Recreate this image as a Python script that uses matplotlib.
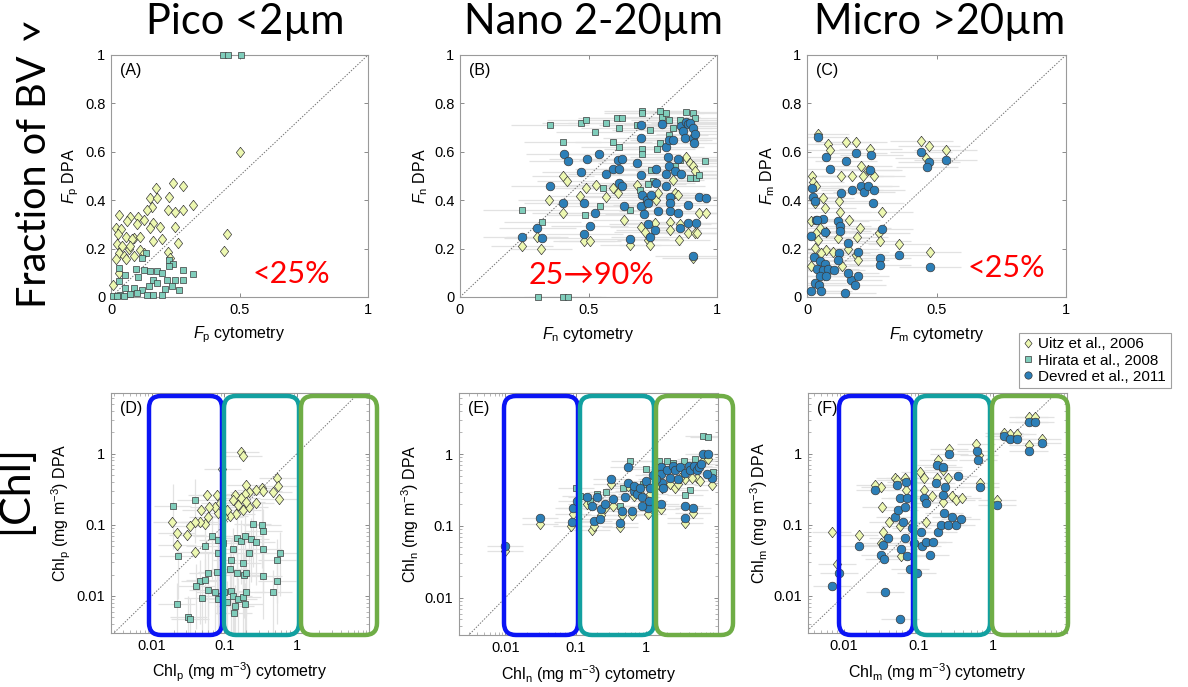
import numpy as np
import matplotlib.pyplot as plt
from matplotlib.patches import FancyBboxPatch
from matplotlib.lines import Line2D

plt.rcParams['font.family'] = ['Liberation Sans', 'DejaVu Sans']
plt.rcParams['mathtext.fontset'] = 'custom'
plt.rcParams['mathtext.rm'] = 'Liberation Sans'
plt.rcParams['mathtext.it'] = 'Liberation Sans:italic'

# ---------------- data ----------------
# Panel A : pico fraction (cytometry, DPA)
a_uitz_x = [0.50, 0.45, 0.44, 0.28, 0.24, 0.175, 0.32, 0.226, 0.15, 0.18, 0.22, 0.25, 0.28, 0.16,
            0.14, 0.107, 0.075, 0.03, 0.062, 0.127, 0.165, 0.19, 0.25, 0.153, 0.10, 0.02, 0.04,
            0.026, 0.06, 0.088, 0.114, 0.08, 0.26, 0.165, 0.20, 0.023, 0.043, 0.07, 0.114, 0.03,
            0.05, 0.088, 0.22, 0.127, 0.02, 0.06, 0.03, 0.008, 0.075, 0.23]
a_uitz_y = [0.60, 0.26, 0.19, 0.46, 0.47, 0.45, 0.38, 0.415, 0.41, 0.41, 0.36, 0.35, 0.36, 0.37,
            0.36, 0.33, 0.33, 0.34, 0.315, 0.317, 0.305, 0.29, 0.29, 0.285, 0.30, 0.285, 0.28,
            0.26, 0.25, 0.245, 0.25, 0.24, 0.225, 0.23, 0.24, 0.22, 0.21, 0.20, 0.195, 0.18,
            0.17, 0.17, 0.185, 0.18, 0.155, 0.155, 0.10, 0.05, 0.21, 0.16]
a_hir_x = [0.437, 0.457, 0.505, 0.32, 0.28, 0.28, 0.224, 0.24, 0.226, 0.137, 0.12, 0.127, 0.153,
           0.18, 0.20, 0.097, 0.03, 0.056, 0.107, 0.165, 0.217, 0.25, 0.03, 0.18, 0.237, 0.263,
           0.146, 0.088, 0.12, 0.056, 0.198, 0.165, 0.14, 0.10, 0.072, 0.036, 0.008, 0.023, 0.05,
           0.21]
a_hir_y = [1.0, 1.0, 1.0, 0.096, 0.113, 0.07, 0.154, 0.137, 0.13, 0.18, 0.16, 0.11, 0.108, 0.106,
           0.099, 0.117, 0.12, 0.092, 0.083, 0.072, 0.072, 0.069, 0.065, 0.058, 0.044, 0.028,
           0.044, 0.037, 0.03, 0.037, 0.01, 0.01, 0.01, 0.017, 0.014, 0.01, 0.003, 0.006, 0.003,
           0.033]

# Panel B : nano fraction
b_uitz_x = [0.24, 0.30, 0.315, 0.346, 0.40, 0.40, 0.418, 0.466, 0.483, 0.505, 0.49, 0.53, 0.57,
            0.596, 0.615, 0.637, 0.663, 0.687, 0.705, 0.72, 0.73, 0.738, 0.758, 0.764, 0.77,
            0.816, 0.816, 0.835, 0.85, 0.852, 0.855, 0.88, 0.894, 0.907, 0.913, 0.888, 0.913,
            0.922, 0.93, 0.956, 0.907, 0.715, 0.83]
b_uitz_y = [0.21, 0.25, 0.20, 0.40, 0.347, 0.50, 0.48, 0.418, 0.23, 0.23, 0.45, 0.463, 0.415,
            0.45, 0.43, 0.32, 0.216, 0.463, 0.29, 0.27, 0.236, 0.215, 0.305, 0.40, 0.43, 0.31,
            0.278, 0.43, 0.42, 0.234, 0.30, 0.58, 0.553, 0.54, 0.52, 0.264, 0.264, 0.264, 0.347,
            0.347, 0.16, 0.38, 0.484]
b_hir_x = [0.24, 0.32, 0.35, 0.40, 0.47, 0.49, 0.525, 0.57, 0.596, 0.61, 0.63, 0.62, 0.62, 0.66,
           0.69, 0.71, 0.71, 0.71, 0.71, 0.74, 0.745, 0.75, 0.73, 0.78, 0.785, 0.80, 0.815, 0.83,
           0.765, 0.78, 0.855, 0.88, 0.907, 0.913, 0.92, 0.895, 0.93, 0.955, 0.855, 0.835, 0.557,
           0.486, 0.544, 0.305, 0.40, 0.42, 0.70, 0.815]
b_hir_y = [0.36, 0.31, 0.71, 0.64, 0.72, 0.73, 0.68, 0.72, 0.64, 0.74, 0.74, 0.70, 0.62, 0.36,
           0.71, 0.77, 0.76, 0.61, 0.59, 0.69, 0.525, 0.48, 0.465, 0.77, 0.745, 0.76, 0.73, 0.70,
           0.61, 0.635, 0.73, 0.765, 0.76, 0.74, 0.49, 0.49, 0.505, 0.56, 0.565, 0.54, 0.45,
           0.34, 0.374, 0.0, 0.0, 0.0, 0.443, 0.67]
b_dev_x = [0.24, 0.30, 0.32, 0.35, 0.40, 0.405, 0.42, 0.47, 0.483, 0.496, 0.483, 0.505, 0.525,
           0.54, 0.57, 0.596, 0.613, 0.62, 0.632, 0.62, 0.632, 0.64, 0.663, 0.687, 0.705, 0.705,
           0.705, 0.71, 0.705, 0.715, 0.728, 0.73, 0.73, 0.738, 0.758, 0.745, 0.764, 0.764, 0.77,
           0.787, 0.80, 0.81, 0.813, 0.80, 0.803, 0.816, 0.816, 0.816, 0.813, 0.83, 0.835, 0.85,
           0.85, 0.855, 0.86, 0.86, 0.868, 0.875, 0.878, 0.888, 0.894, 0.888, 0.888, 0.907,
           0.907, 0.913, 0.91, 0.917, 0.907, 0.93, 0.956]
b_dev_y = [0.25, 0.285, 0.245, 0.46, 0.39, 0.59, 0.56, 0.515, 0.39, 0.57, 0.26, 0.295, 0.347,
           0.59, 0.51, 0.53, 0.565, 0.53, 0.57, 0.47, 0.46, 0.377, 0.24, 0.553, 0.71, 0.656,
           0.505, 0.42, 0.377, 0.344, 0.40, 0.39, 0.30, 0.25, 0.278, 0.42, 0.53, 0.47, 0.356,
           0.715, 0.62, 0.58, 0.54, 0.51, 0.457, 0.415, 0.387, 0.357, 0.65, 0.65, 0.52, 0.57,
           0.347, 0.285, 0.51, 0.705, 0.687, 0.655, 0.725, 0.715, 0.72, 0.38, 0.305, 0.70,
           0.656, 0.673, 0.635, 0.305, 0.168, 0.415, 0.41]

# Panel C : micro fraction
c_uitz_x = [0.043, 0.08, 0.088, 0.152, 0.188, 0.245, 0.442, 0.47, 0.535, 0.461, 0.21, 0.216,
            0.235, 0.258, 0.133, 0.175, 0.02, 0.023, 0.034, 0.03, 0.06, 0.068, 0.124, 0.129,
            0.289, 0.162, 0.204, 0.017, 0.05, 0.075, 0.036, 0.278, 0.193, 0.12, 0.281, 0.354,
            0.474, 0.043, 0.03, 0.075, 0.10, 0.158, 0.19, 0.017, 0.137, 0.055, 0.197]
c_uitz_y = [0.674, 0.633, 0.608, 0.642, 0.642, 0.612, 0.645, 0.624, 0.608, 0.574, 0.543, 0.50,
            0.525, 0.50, 0.50, 0.50, 0.50, 0.477, 0.457, 0.39, 0.41, 0.367, 0.395, 0.35, 0.353,
            0.32, 0.285, 0.312, 0.285, 0.27, 0.264, 0.264, 0.25, 0.243, 0.23, 0.22, 0.184,
            0.237, 0.202, 0.195, 0.188, 0.198, 0.175, 0.127, 0.127, 0.182, 0.154]
c_dev_x = [0.043, 0.075, 0.088, 0.15, 0.188, 0.249, 0.245, 0.44, 0.472, 0.463, 0.535, 0.175,
           0.207, 0.22, 0.236, 0.26, 0.253, 0.133, 0.02, 0.023, 0.03, 0.034, 0.06, 0.04, 0.12,
           0.126, 0.129, 0.29, 0.017, 0.068, 0.158, 0.195, 0.027, 0.124, 0.12, 0.281, 0.281,
           0.354, 0.474, 0.049, 0.068, 0.039, 0.062, 0.081, 0.103, 0.049, 0.072, 0.168, 0.186,
           0.03, 0.046, 0.017, 0.053, 0.146, 0.197, 0.158]
c_dev_y = [0.66, 0.578, 0.528, 0.56, 0.594, 0.585, 0.525, 0.60, 0.557, 0.536, 0.567, 0.443,
           0.457, 0.432, 0.457, 0.443, 0.388, 0.43, 0.45, 0.415, 0.395, 0.32, 0.322, 0.32,
           0.312, 0.292, 0.271, 0.28, 0.254, 0.267, 0.223, 0.186, 0.165, 0.182, 0.151, 0.161,
           0.133, 0.175, 0.122, 0.147, 0.138, 0.116, 0.113, 0.116, 0.113, 0.088, 0.085, 0.072,
           0.051, 0.058, 0.048, 0.023, 0.023, 0.017, 0.085, 0.10]

# Panel D : pico Chl (mg m-3)
d_uitz_x = [0.169, 0.183, 0.094, 0.537, 0.55, 0.57, 0.47, 0.326, 0.34, 0.27, 0.20, 0.22, 0.19,
            0.172, 0.14, 0.13, 0.155, 0.18, 0.146, 0.119, 0.11, 0.10, 0.082, 0.074, 0.078,
            0.086, 0.062, 0.06, 0.054, 0.046, 0.040, 0.0336, 0.048, 0.057, 0.019, 0.022, 0.0225,
            0.031, 0.039, 0.22, 0.27, 0.20]
d_uitz_y = [1.05, 0.92, 0.60, 0.448, 0.35, 0.23, 0.29, 0.325, 0.30, 0.31, 0.36, 0.29, 0.27,
            0.236, 0.26, 0.22, 0.19, 0.16, 0.142, 0.134, 0.16, 0.13, 0.146, 0.18, 0.26, 0.20,
            0.18, 0.13, 0.103, 0.11, 0.11, 0.095, 0.16, 0.26, 0.11, 0.077, 0.052, 0.072, 0.041,
            0.18, 0.20, 0.21]
d_hir_x = [0.0195, 0.040, 0.0228, 0.244, 0.33, 0.34, 0.58, 0.53, 0.53, 0.47, 0.067, 0.081,
           0.097, 0.054, 0.082, 0.147, 0.17, 0.19, 0.23, 0.275, 0.34, 0.22, 0.13, 0.125, 0.18,
           0.118, 0.06, 0.079, 0.15, 0.185, 0.20, 0.046, 0.054, 0.041, 0.06, 0.074, 0.091, 0.10,
           0.125, 0.133, 0.155, 0.18, 0.20, 0.19, 0.14, 0.107, 0.135, 0.05, 0.082, 0.022, 0.032,
           0.034, 0.34]
d_hir_y = [0.184, 0.22, 0.036, 0.102, 0.10, 0.083, 0.04, 0.032, 0.0163, 0.0114, 0.069, 0.062,
           0.055, 0.05, 0.04, 0.065, 0.059, 0.069, 0.063, 0.057, 0.045, 0.04, 0.045, 0.032,
           0.029, 0.024, 0.021, 0.022, 0.021, 0.0195, 0.021, 0.016, 0.0167, 0.0139, 0.012,
           0.0114, 0.010, 0.0114, 0.0118, 0.010, 0.009, 0.0096, 0.0114, 0.0077, 0.0072, 0.0081,
           0.0058, 0.0095, 0.009, 0.0077, 0.005, 0.0047, 0.019]

# Panel E : nano Chl
e_uitz_x = [0.01, 0.031, 0.086, 0.092, 0.103, 0.143, 0.168, 0.18, 0.23, 0.26, 0.34, 0.32, 0.43,
            0.45, 0.56, 0.62, 0.66, 0.82, 1.07, 1.13, 1.67, 1.63, 2.2, 2.55, 2.8, 3.6, 3.6, 4.6,
            5.3, 6.5, 7.6, 8.6, 5.9, 4.5, 3.05, 1.4]
e_uitz_y = [0.045, 0.105, 0.10, 0.145, 0.18, 0.20, 0.087, 0.10, 0.14, 0.18, 0.19, 0.38, 0.095,
            0.14, 0.36, 0.14, 0.26, 0.29, 0.145, 0.28, 0.34, 0.17, 0.38, 0.34, 0.38, 0.45, 0.11,
            0.15, 0.47, 0.81, 0.85, 0.37, 0.42, 0.47, 0.46, 0.36]
e_hir_x = [6.5, 7.5, 0.10, 0.58, 1.0, 1.5, 1.97, 2.4, 3.4, 4.2, 3.6, 5.0, 8.9, 0.20, 0.27, 0.47,
           0.90, 0.115, 0.16, 0.43]
e_hir_y = [1.8, 1.7, 0.336, 0.79, 0.62, 0.80, 0.79, 0.74, 0.80, 0.32, 0.27, 0.85, 0.57, 0.28,
           0.30, 0.34, 0.38, 0.26, 0.22, 0.19]
e_dev_x = [0.0099, 0.031, 0.088, 0.092, 0.103, 0.143, 0.168, 0.18, 0.20, 0.23, 0.22, 0.26,
           0.32, 0.34, 0.43, 0.45, 0.50, 0.56, 0.56, 0.62, 0.66, 0.66, 0.73, 0.82, 0.87, 1.0,
           1.07, 1.11, 1.13, 1.6, 1.6, 1.67, 1.76, 1.63, 1.97, 2.2, 2.4, 2.55, 2.8, 3.05, 3.6,
           3.6, 3.6, 4.0, 4.2, 4.6, 4.8, 5.3, 5.6, 6.1, 6.5, 7.6, 8.6, 7.3, 1.26, 1.4, 0.87]
e_dev_y = [0.053, 0.13, 0.114, 0.177, 0.22, 0.25, 0.19, 0.117, 0.25, 0.17, 0.124, 0.20, 0.45,
           0.236, 0.11, 0.16, 0.25, 0.65, 0.40, 0.16, 0.31, 0.36, 0.28, 0.34, 0.25, 0.42, 0.18,
           0.22, 0.34, 0.65, 0.53, 0.40, 0.34, 0.20, 0.59, 0.47, 0.69, 0.59, 0.45, 0.65, 0.55,
           0.19, 0.13, 0.69, 0.59, 0.18, 0.69, 0.59, 0.65, 0.72, 1.0, 1.0, 0.47, 0.53, 0.51,
           0.45, 0.19]

# Panel F : micro Chl
f_uitz_x = [0.0069, 0.016, 0.0264, 0.031, 0.032, 0.033, 0.031, 0.04, 0.049, 0.051, 0.066,
            0.068, 0.058, 0.081, 0.105, 0.117, 0.117, 0.128, 0.15, 0.175, 0.185, 0.21, 0.215,
            0.25, 0.26, 0.28, 0.32, 0.38, 0.59, 0.65, 0.66, 1.13, 1.4, 1.67, 2.1, 3.0, 3.6, 3.0,
            4.5, 0.0082, 0.057]
f_uitz_y = [0.078, 0.071, 0.36, 0.34, 0.18, 0.08, 0.055, 0.11, 0.45, 0.42, 0.45, 0.31, 0.037,
            0.106, 0.55, 0.45, 0.31, 0.11, 0.25, 0.45, 0.81, 0.21, 0.58, 0.45, 1.17, 0.25, 0.22,
            0.236, 1.35, 0.95, 0.38, 0.22, 1.96, 1.9, 1.9, 3.3, 3.3, 1.3, 1.6, 0.028, 0.095]
f_dev_x = [0.007, 0.0086, 0.016, 0.0264, 0.031, 0.034, 0.035, 0.036, 0.039, 0.049, 0.051,
           0.054, 0.057, 0.058, 0.057, 0.063, 0.066, 0.068, 0.070, 0.065, 0.07, 0.077, 0.081,
           0.086, 0.095, 0.107, 0.11, 0.117, 0.125, 0.128, 0.143, 0.158, 0.172, 0.175, 0.18,
           0.20, 0.215, 0.215, 0.22, 0.227, 0.25, 0.26, 0.28, 0.34, 0.32, 0.37, 0.60, 0.63,
           0.66, 1.14, 1.4, 1.67, 2.1, 3.0, 3.0, 3.6, 4.5]
f_dev_y = [0.0138, 0.021, 0.05, 0.31, 0.038, 0.052, 0.033, 0.0114, 0.066, 0.13, 0.36, 0.16,
           0.236, 0.046, 0.0048, 0.11, 0.18, 0.40, 0.236, 0.065, 0.036, 0.024, 0.09, 0.055,
           0.021, 0.08, 0.05, 0.24, 0.20, 0.058, 0.038, 0.058, 0.39, 0.69, 0.08, 0.10, 0.64,
           0.26, 0.145, 0.34, 0.10, 1.0, 0.13, 0.48, 0.10, 0.12, 1.1, 0.81, 0.34, 0.19, 1.74,
           1.6, 1.6, 1.1, 2.77, 2.77, 1.4]

legend_labels = ['Uitz et al., 2006', 'Hirata et al., 2008', 'Devred et al., 2011']
col_uitz, col_hir, col_dev = '#edf8b1', '#7fcdbb', '#2c7fb8'
titles = ['Pico <2\u00b5m', 'Nano 2-20\u00b5m', 'Micro >20\u00b5m']
subs = ['p', 'n', 'm']
letters = ['(A)', '(B)', '(C)', '(D)', '(E)', '(F)']
notes = ['<25%', '25\u219290%', '<25%']

# ---------------- figure ----------------
W, H = 1188, 687
fig = plt.figure(figsize=(W / 100, H / 100), dpi=100)

diamond = [(0, 1), (0.8, 0), (0, -1), (-0.8, 0), (0, 1)]
marker_style = {'uitz': dict(marker=diamond, ms=7.5, mfc=col_uitz, z=3),
                'hir': dict(marker='s', ms=4.8, mfc=col_hir, z=4),
                'dev': dict(marker='o', ms=6.2, mfc=col_dev, z=5)}


def px_axes(l, r, t, b):
    return fig.add_axes([l / W, 1 - b / H, (r - l) / W, (b - t) / H])


def style(ax):
    for s in ax.spines.values():
        s.set_color('#9a9a9a')
        s.set_linewidth(0.8)
    ax.tick_params(direction='in', top=True, right=True, length=3, width=0.6,
                   color='#777777', labelsize=10.5, pad=4)


def pts(ax, x, y, kind, xe=None, ye=None):
    st = marker_style[kind]
    x = np.asarray(x, float)
    y = np.asarray(y, float)
    if xe is not None or ye is not None:
        ax.errorbar(x, y, xerr=xe, yerr=ye, fmt='none', ecolor='#e2e2e2', elinewidth=0.9,
                    zorder=1)
    ax.plot(x, y, ls='none', marker=st['marker'], ms=st['ms'], mfc=st['mfc'], mec='#3a3a3a',
            mew=0.5, zorder=st['z'], clip_on=False)


top_axes = [(111, 368, 55, 297), (460, 717, 55, 297), (807, 1066, 55, 297)]
bot_axes = [(111, 369, 393, 633), (459, 718, 393, 635), (808, 1067, 393, 633)]
bot_xlims = [(10 ** -2.56, 10 ** 0.99), (10 ** -2.66, 10 ** 1.02), (10 ** -2.48, 10 ** 0.99)]

frac_data = [
    [('uitz', a_uitz_x, a_uitz_y, None), ('hir', a_hir_x, a_hir_y, None)],
    [('uitz', b_uitz_x, b_uitz_y, 0.12), ('hir', b_hir_x, b_hir_y, 0.15),
     ('dev', b_dev_x, b_dev_y, 0.15)],
    [('uitz', c_uitz_x, c_uitz_y, 0.12), ('dev', c_dev_x, c_dev_y, 0.12)],
]
chl_data = [
    [('uitz', d_uitz_x, d_uitz_y), ('hir', d_hir_x, d_hir_y)],
    [('uitz', e_uitz_x, e_uitz_y), ('hir', e_hir_x, e_hir_y), ('dev', e_dev_x, e_dev_y)],
    [('uitz', f_uitz_x, f_uitz_y), ('dev', f_dev_x, f_dev_y)],
]

note_pos = [(291, 274), (592, 275), (1006, 268)]
title_x = [245, 593, 940]
big_font = ['Lato', 'DejaVu Sans']

for i in range(3):
    ax = px_axes(*top_axes[i])
    style(ax)
    ax.plot([0, 1], [0, 1], ls=(0, (1.5, 1.5)), color='#777777', lw=0.7, zorder=2)
    for kind, x, y, err in frac_data[i]:
        pts(ax, x, y, kind, xe=err)
    ax.set_xlim(0, 1)
    ax.set_ylim(0, 1)
    ax.set_xticks([0, 0.5, 1])
    ax.set_xticklabels(['0', '0.5', '1'])
    ax.set_yticks([0, 0.2, 0.4, 0.6, 0.8, 1])
    ax.set_yticklabels(['0', '0.2', '0.4', '0.6', '0.8', '1'])
    ax.set_xlabel(r'$F_{\rm %s}$ cytometry' % subs[i], fontsize=11.5, labelpad=6)
    ax.set_ylabel(r'$F_{\rm %s}$ DPA' % subs[i], fontsize=11.5, labelpad=3)
    ax.text(0.035, 0.965, letters[i], transform=ax.transAxes, ha='left', va='top', fontsize=11.5)
    fig.text(note_pos[i][0] / W, 1 - note_pos[i][1] / H, notes[i], color='#ff0000',
             fontsize=22, ha='center', va='center', family=big_font)
    fig.text(title_x[i] / W, 1 - 22 / H, titles[i], fontsize=30, ha='center', va='center',
             family=big_font)

    bx = px_axes(*bot_axes[i])
    style(bx)
    bx.set_xscale('log')
    bx.set_yscale('log')
    bx.set_xlim(*bot_xlims[i])
    bx.set_ylim(10 ** -2.52, 10 ** 0.85)
    bx.plot([1e-3, 1e2], [1e-3, 1e2], ls=(0, (1.5, 1.5)), color='#777777', lw=0.7, zorder=2)
    for kind, x, y in chl_data[i]:
        x = np.asarray(x)
        y = np.asarray(y)
        xe = [x * 0.45, x * 0.8]
        ye = [y * 0.75, y * 1.0] if (i == 0 and kind == 'hir') else None
        pts(bx, x, y, kind, xe=xe, ye=ye)
    bx.set_xticks([0.01, 0.1, 1])
    bx.set_xticklabels(['0.01', '0.1', '1'])
    bx.set_yticks([0.01, 0.1, 1])
    bx.set_yticklabels(['0.01', '0.1', '1'])
    bx.tick_params(which='minor', direction='in', top=True, right=True, length=2, width=0.5,
                   color='#999999')
    bx.set_xlabel(r'Chl$_{\rm %s}$ (mg m$^{-3}$) cytometry' % subs[i], fontsize=11.5,
                  labelpad=6)
    bx.set_ylabel(r'Chl$_{\rm %s}$ (mg m$^{-3}$) DPA' % subs[i], fontsize=11.5, labelpad=3)
    bx.text(0.035, 0.965, letters[i + 3], transform=bx.transAxes, ha='left', va='top',
            fontsize=11.5)

# rounded size-class boxes over the Chl panels (pixel coordinates)
box_cols = ['#0a14f5', '#12a0a0', '#6fad46']
box_edges = [(149, 223, 300, 377), (504, 579, 655, 733), (839, 914, 991, 1068)]
for edges in box_edges:
    for k in range(3):
        x0 = edges[k] + (1 if k else 0)
        x1 = edges[k + 1] - (1 if k < 2 else 0)
        p = FancyBboxPatch((x0 / 100 + 0.12, (H - 635) / 100 + 0.12),
                           (x1 - x0) / 100 - 0.24, (635 - 396) / 100 - 0.24,
                           boxstyle='round,pad=0.12', transform=fig.dpi_scale_trans,
                           fill=False, ec=box_cols[k], lw=3.2, zorder=10)
        fig.add_artist(p)

# big row labels
fig.text(35 / W, 1 - 182 / H, 'Fraction of BV', rotation=90, fontsize=28.5, ha='center',
         va='center', family=big_font)
fig.text(15 / W, 1 - 490 / H, '[Chl]', rotation=90, fontsize=31, ha='center', va='center',
         family=big_font)
fig.text(30 / W, 1 - 34 / H, '>', fontsize=30, ha='center', va='center', family=big_font)

handles = [Line2D([], [], ls='none', marker=marker_style[k]['marker'],
                  ms=marker_style[k]['ms'] * 0.85, mfc=marker_style[k]['mfc'],
                  mec='#3a3a3a', mew=0.5) for k in ('uitz', 'hir', 'dev')]
leg = fig.legend(handles, legend_labels, loc='upper left',
                 bbox_to_anchor=(1011 / W, 1 - 325 / H), fontsize=11, frameon=True,
                 fancybox=False, handlelength=0.6, handletextpad=0.4, borderpad=0.3,
                 labelspacing=0.15)
leg.get_frame().set_edgecolor('#888888')
leg.get_frame().set_linewidth(0.8)

fig.savefig('out.png', dpi=100)
